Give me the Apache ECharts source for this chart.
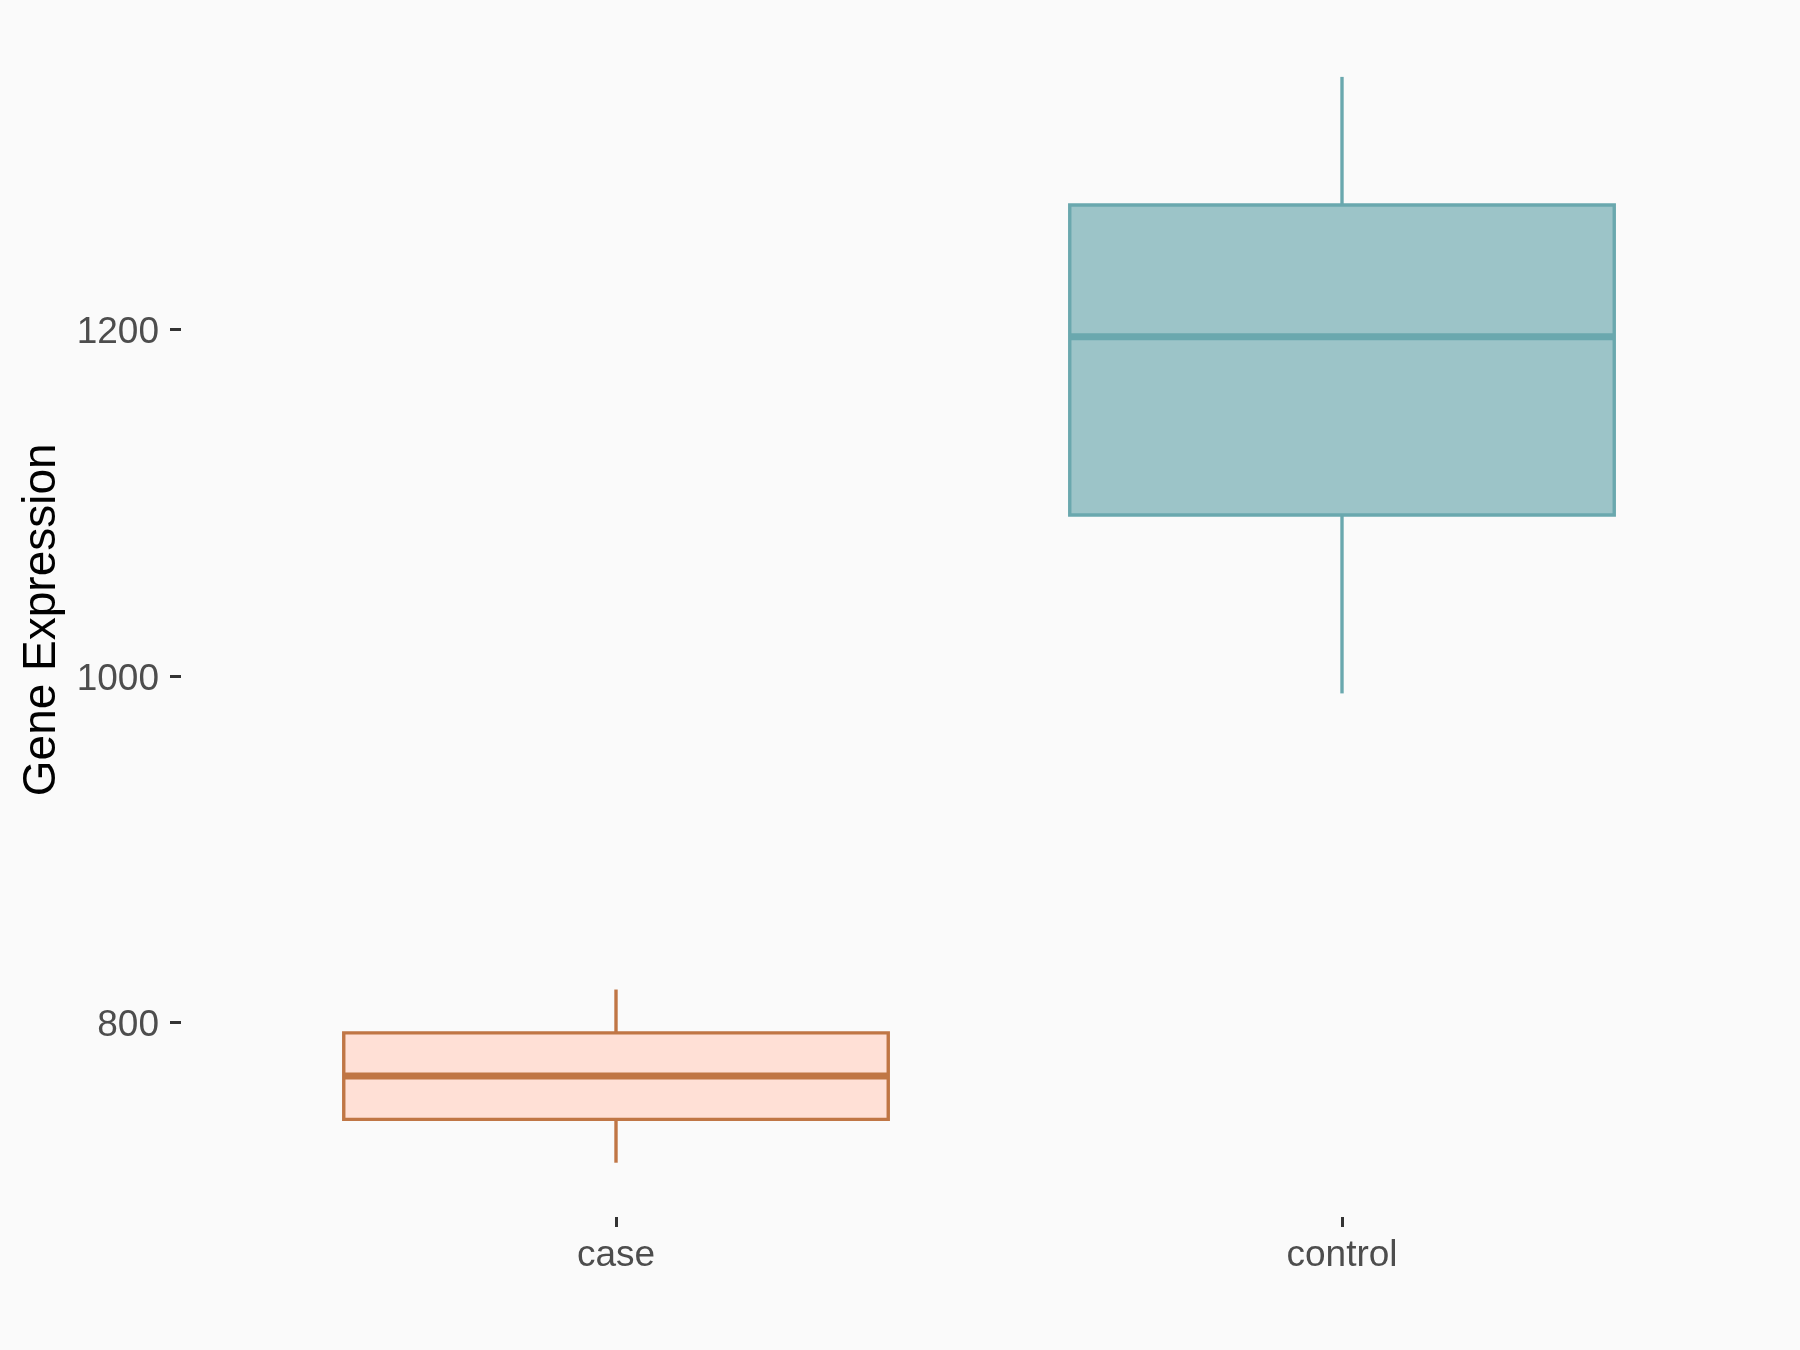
<!DOCTYPE html>
<html>
<head>
<meta charset="utf-8">
<script src="https://cdn.jsdelivr.net/npm/echarts@6/dist/echarts.min.js"></script>
<style>
html,body{margin:0;padding:0;background:#FAFAFA;}
#chart{width:1800px;height:1350px;}
</style>
</head>
<body>
<div id="chart"></div>
<script>
// ---- data ----
const categories = ['case', 'control'];
const whiskerLow = [719, 990];
const q1 = [744, 1093];
const medians = [769, 1196];
const q3 = [794, 1272];
const whiskerHigh = [819, 1346];
const yTicks = [800, 1000, 1200];

// ---- styles ----
const fills = ['#FFE0D6', '#9CC4C8'];
const strokes = ['#C07645', '#6AA8AE'];
const FONT = '"Liberation Sans", Arial, sans-serif';

const dataMin = Math.min(...whiskerLow), dataMax = Math.max(...whiskerHigh);
const pad = (dataMax - dataMin) * 0.05;

const seriesData = categories.map((c, i) => [i, whiskerLow[i], q1[i], medians[i], q3[i], whiskerHigh[i]]);

const chart = echarts.init(document.getElementById('chart'), null, {renderer: 'canvas'});
chart.setOption({
  backgroundColor: '#FAFAFA',
  animation: false,
  grid: {left: 253, right: 95, top: 22.6, bottom: 133},
  xAxis: {
    type: 'category',
    data: categories,
    boundaryGap: true,
    axisLine: {show: false},
    axisTick: {show: true, alignWithLabel: true, length: 10, lineStyle: {color: '#333333', width: 3}},
    axisLabel: {fontSize: 37, color: '#4D4D4D', fontFamily: FONT, margin: 20},
    splitLine: {show: false}
  },
  yAxis: {
    type: 'value',
    min: dataMin - pad,
    max: dataMax + pad,
    offset: 72,
    name: 'Gene Expression',
    nameLocation: 'middle',
    nameGap: 105,
    nameTextStyle: {fontSize: 46, color: '#000000', fontFamily: FONT},
    axisLine: {show: false},
    splitLine: {show: false},
    axisTick: {show: true, length: 11, customValues: yTicks, lineStyle: {color: '#333333', width: 3}},
    axisLabel: {
      fontSize: 37, color: '#4D4D4D', fontFamily: FONT, margin: 22, customValues: yTicks,
      verticalAlign: 'middle',
      formatter: function (v) { return '{v|' + Math.round(v) + '}'; },
      rich: {v: {fontSize: 37, color: '#4D4D4D', fontFamily: FONT, padding: [7, 0, 0, 0]}}
    }
  },
  series: [{
    type: 'custom',
    data: seriesData,
    encode: {x: 0, y: [1, 2, 3, 4, 5]},
    renderItem: function (params, api) {
      const idx = api.value(0);
      const lo = api.coord([idx, api.value(1)]);
      const b1 = api.coord([idx, api.value(2)]);
      const md = api.coord([idx, api.value(3)]);
      const b3 = api.coord([idx, api.value(4)]);
      const hi = api.coord([idx, api.value(5)]);
      const bw = api.size([1, 0])[0] * 0.75;
      const cx = lo[0];
      const fill = fills[params.dataIndex];
      const stroke = strokes[params.dataIndex];
      return {
        type: 'group',
        children: [
          {type: 'line', shape: {x1: cx, y1: hi[1], x2: cx, y2: b3[1]}, style: {stroke: stroke, lineWidth: 3.4}},
          {type: 'line', shape: {x1: cx, y1: b1[1], x2: cx, y2: lo[1]}, style: {stroke: stroke, lineWidth: 3.4}},
          {type: 'rect', shape: {x: cx - bw / 2, y: b3[1], width: bw, height: b1[1] - b3[1]}, style: {fill: fill, stroke: stroke, lineWidth: 3.4}},
          {type: 'line', shape: {x1: cx - bw / 2, y1: md[1], x2: cx + bw / 2, y2: md[1]}, style: {stroke: stroke, lineWidth: 7}}
        ]
      };
    }
  }]
});
</script>
</body>
</html>
